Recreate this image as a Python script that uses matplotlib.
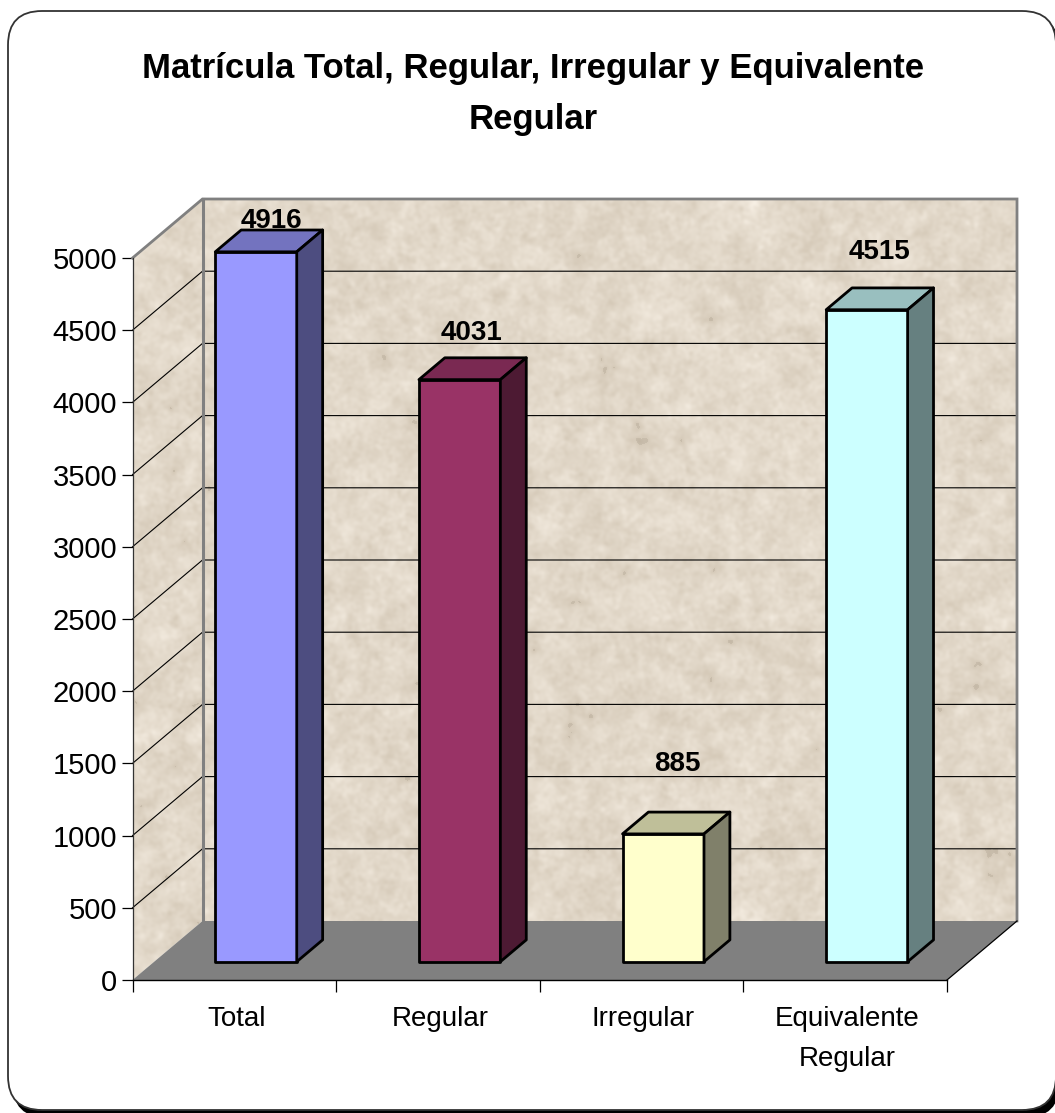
import numpy as np
import matplotlib
matplotlib.use("Agg")
import matplotlib.pyplot as plt
from matplotlib.patches import Polygon, FancyBboxPatch

# Data
title = "Matrícula Total, Regular, Irregular y Equivalente\nRegular"
categories = ["Total", "Regular", "Irregular", "Equivalente\nRegular"]
values = [4916, 4031, 885, 4515]
y_ticks = list(range(0, 5001, 500))

# Style and layout
front_colors = ["#9999FF", "#993366", "#FFFFCC", "#CCFFFF"]
top_colors = ["#7373BF", "#7A2952", "#BFBF99", "#99BFBF"]
side_colors = ["#4D4D80", "#4D1A33", "#80806A", "#668080"]
label_lift_px = [31, 47, 70, 58]
label_shift_px = [15, 12, 14, 13]

W, H = 1055, 1113
plt.rcParams["font.family"] = ["Liberation Sans", "DejaVu Sans"]
fig = plt.figure(figsize=(W / 100, H / 100), dpi=100, facecolor="white")

# Frame in pixel coordinates
bg = fig.add_axes([0, 0, 1, 1], zorder=0)
bg.set_xlim(0, W); bg.set_ylim(H, 0); bg.axis("off")
bg.add_patch(FancyBboxPatch((12, 15), W + 5 - 12, 1118 - 15,
                            boxstyle="round,pad=0,rounding_size=36", fc="black", ec="none"))
bg.add_patch(FancyBboxPatch((8, 11), 1056 - 8, 1110 - 11,
                            boxstyle="round,pad=0,rounding_size=34", fc="white", ec="#333333", lw=1.3))

# Main axes = front plane of the 3D box
L, R, T, B = 132.5, 947, 258, 980
ax = fig.add_axes([L / W, 1 - B / H, (R - L) / W, (B - T) / H], zorder=1)
ax.patch.set_visible(False)
ax.set_xlim(0, 4); ax.set_ylim(0, 5000)
px_x = 4 / (R - L); px_y = 5000 / (B - T)
DX, DY = 70 * px_x, 59 * px_y

def P(x, v, d):
    return (x + d * DX, v + d * DY)

# Wall texture
rng = np.random.default_rng(11)
def texture(h, w):
    out = np.zeros((h, w))
    for sigma, amp in ((14, .55), (5, .9), (1.8, .7)):
        n = rng.standard_normal((h, w))
        fy = np.fft.fftfreq(h)[:, None]; fx = np.fft.fftfreq(w)[None, :]
        f = np.fft.ifft2(np.fft.fft2(n) * np.exp(-2 * (np.pi * sigma) ** 2 * (fx ** 2 + fy ** 2))).real
        out += amp * f / f.std()
    out /= out.std()
    base = np.array([226, 216, 201]) / 255
    img = base[None, None, :] + out[..., None] * np.array([.016, .018, .021])
    dark = out < -3.0
    img[dark] -= .05
    return np.clip(img, 0, 1)

back_poly = [P(0, 0, 1), P(0, 5000, 1), P(4, 5000, 1), P(4, 0, 1)]
left_poly = [P(0, 0, 0), P(0, 5000, 0), P(0, 5000, 1), P(0, 0, 1)]
floor_poly = [P(0, 0, 0), P(4, 0, 0), P(4, 0, 1), P(0, 0, 1)]

for poly, (x0, x1, v0, v1), shape in (
    (back_poly, (DX, 4 + DX, DY, 5000 + DY), (722, 815)),
    (left_poly, (0, DX, 0, 5000 + DY), (781, 70)),
):
    im = ax.imshow(texture(*shape), extent=(x0, x1, v0, v1), aspect="auto",
                   origin="lower", zorder=1, interpolation="bilinear")
    im.set_clip_box(fig.bbox)
    im.set_clip_path(Polygon(poly, transform=ax.transData))
ax.set_xlim(0, 4); ax.set_ylim(0, 5000)

ax.add_patch(Polygon(floor_poly, fc="#808080", ec="none", zorder=2, clip_on=False))

# Gridlines on both walls
for v in y_ticks[1:-1]:
    ax.plot(*zip(P(0, v, 0), P(0, v, 1), P(4, v, 1)), color="black", lw=0.8, zorder=2.5, clip_on=False)

# Wall outlines
ax.plot(*zip(P(0, 5000, 0), P(0, 5000, 1), P(4, 5000, 1), P(4, 0, 1)), color="#808080", lw=2, zorder=2.6,
        clip_on=False, solid_joinstyle="miter")
ax.plot(*zip(P(0, 0, 1), P(0, 5000, 1)), color="#808080", lw=2.2, zorder=2.6, clip_on=False)
ax.plot(*zip(P(4, 0, 0), P(4, 0, 1)), color="black", lw=0.9, zorder=2.7, clip_on=False)

# Bars
d0, d1 = 0.31, 0.68
w = 0.4
for i, (v, fc, tc, sc) in enumerate(zip(values, front_colors, top_colors, side_colors)):
    xl, xr = i + 0.5 - w / 2, i + 0.5 + w / 2
    kw = dict(ec="black", lw=2.0, zorder=3 + i, clip_on=False, joinstyle="round")
    ax.add_patch(Polygon([P(xl, 0, d0), P(xr, 0, d0), P(xr, v, d0), P(xl, v, d0)], fc=fc, **kw))
    ax.add_patch(Polygon([P(xl, v, d0), P(xr, v, d0), P(xr, v, d1), P(xl, v, d1)], fc=tc, **kw))
    ax.add_patch(Polygon([P(xr, 0, d0), P(xr, 0, d1), P(xr, v, d1), P(xr, v, d0)], fc=sc, **kw))
    ax.annotate(str(v), xy=P(i + 0.5, v, d0), xytext=(label_shift_px[i] * .72, label_lift_px[i] * .72),
                textcoords="offset points", ha="center", va="center", fontsize=20,
                fontweight="bold", color="black", zorder=10, annotation_clip=False)

# Axes, ticks
for s in ("top", "right"):
    ax.spines[s].set_visible(False)
ax.spines["left"].set_color("#333333"); ax.spines["left"].set_linewidth(0.9)
ax.spines["bottom"].set_color("black"); ax.spines["bottom"].set_linewidth(1.0)
ax.spines["left"].set_zorder(2.8); ax.spines["bottom"].set_zorder(2.8)
ax.set_yticks(y_ticks)
ax.set_yticklabels([str(t) for t in y_ticks], fontsize=21)
ax.tick_params(axis="y", length=8, width=0.9, pad=3)
ax.set_xticks(range(5))
ax.set_xticklabels([""] * 5)
ax.tick_params(axis="x", length=8.6, width=0.9)
ax.set_xticks([i + 0.5 + 2 * px_x for i in range(4)], minor=True)
ax.set_xticklabels(categories, minor=True, fontsize=20, linespacing=1.7)
ax.tick_params(axis="x", which="minor", length=0, pad=19)

fig.text(533 / W, 1 - 94 / H, title, ha="center", va="center", fontsize=25, fontweight="bold",
         linespacing=1.68, color="black", zorder=5)

fig.savefig("out.png", dpi=100)
